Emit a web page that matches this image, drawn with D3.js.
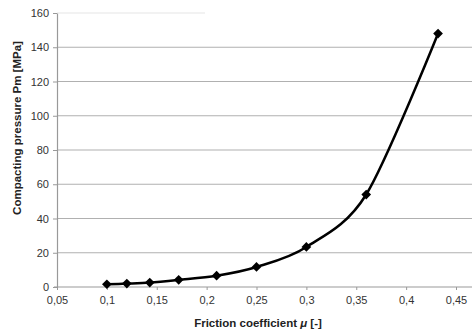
<!DOCTYPE html>
<html>
<head>
<meta charset="utf-8">
<script src="https://cdn.jsdelivr.net/npm/d3@7"></script>
<style>
    body { margin: 0; background: #fff; }
    svg { display: block; font-family: "Liberation Sans", Arial, sans-serif; }
</style>
</head>
<body>
<div class="chart"></div>
<script>
// data
const friction = [0.1, 0.12, 0.143, 0.172, 0.21, 0.25, 0.3, 0.36, 0.432];
const pressure = [1.6, 2.0, 2.6, 4.2, 6.6, 11.7, 23.4, 54, 148];
const xTicks = [0.05, 0.1, 0.15, 0.2, 0.25, 0.3, 0.35, 0.4, 0.45];
const yTicks = [0, 20, 40, 60, 80, 100, 120, 140, 160];

const w = 472, h = 334;
const margin = { top: 13, right: 16, bottom: 47, left: 57 };

const xScale = d3.scaleLinear()
    .domain([0.05, 0.45])
    .range([margin.left, w - margin.right]);

const yScale = d3.scaleLinear()
    .domain([0, 160])
    .range([h - margin.bottom, margin.top]);

const svg = d3.select("div.chart")
    .append("svg")
    .attr("width", w)
    .attr("height", h);

const fmt = d => String(d).replace(".", ",");

// gridlines
svg.append("g")
    .selectAll("line")
    .data(yTicks.slice(1))
    .enter()
    .append("line")
    .attr("x1", margin.left)
    .attr("x2", (d) => d === 160 ? 205 : w)
    .attr("y1", (d) => yScale(d))
    .attr("y2", (d) => yScale(d))
    .attr("stroke", (d) => d === 160 ? "#e6e6e6" : "#b0b0b0")
    .attr("stroke-width", 1.2);

// x axis
const xAxis = d3.axisBottom(xScale)
    .tickValues(xTicks)
    .tickFormat(fmt)
    .tickSize(3)
    .tickSizeOuter(0)
    .tickPadding(6);
const gx = svg.append("g")
    .attr("transform", "translate(0," + yScale(0) + ")")
    .call(xAxis);
gx.select(".domain").attr("stroke", "#999").attr("stroke-width", 1.2)
    .attr("d", "M" + (margin.left - 3) + ",0H" + w);
gx.selectAll(".tick line").attr("stroke", "#999");
gx.selectAll("text").attr("fill", "#333").style("font-size", "11px");

// y axis
const yAxis = d3.axisLeft(yScale)
    .tickValues(yTicks)
    .tickSize(4)
    .tickSizeOuter(0)
    .tickPadding(4);
const gy = svg.append("g")
    .attr("transform", "translate(" + margin.left + ",0)")
    .call(yAxis);
gy.select(".domain").attr("stroke", "#999").attr("stroke-width", 1.2);
gy.selectAll(".tick line").attr("stroke", "#999");
gy.selectAll("text").attr("fill", "#333").style("font-size", "11px");

// axis titles
svg.append("text")
    .attr("x", 258)
    .attr("y", 327)
    .attr("text-anchor", "middle")
    .style("font-size", "11.5px")
    .style("font-weight", "bold")
    .attr("fill", "#222")
    .html("Friction coefficient <tspan font-style='italic'>μ</tspan> [-]");

svg.append("text")
    .attr("transform", "translate(21,128) rotate(-90)")
    .attr("text-anchor", "middle")
    .style("font-size", "11.5px")
    .style("font-weight", "bold")
    .attr("fill", "#222")
    .text("Compacting pressure Pm [MPa]");

// smoothed curve
const pts = friction.map((f, i) => [f, pressure[i]]);
const line = d3.line()
    .x((d) => xScale(d[0]))
    .y((d) => yScale(d[1]))
    .curve(d3.curveCardinal.tension(0.1));

svg.append("path")
    .datum(pts)
    .attr("d", line)
    .attr("fill", "none")
    .attr("stroke", "#000")
    .attr("stroke-width", 2.5);

// diamond markers
svg.selectAll("path.marker")
    .data(pts)
    .enter()
    .append("path")
    .attr("class", "marker")
    .attr("d", d3.symbol().type(d3.symbolDiamond2).size(60))
    .attr("transform", (d) => "translate(" + xScale(d[0]) + "," + yScale(d[1]) + ")")
    .attr("fill", "#000");
</script>
</body>
</html>
